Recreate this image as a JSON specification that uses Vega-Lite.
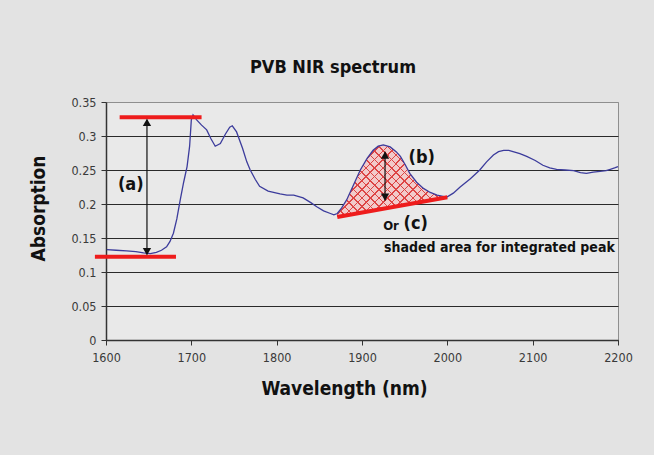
{
  "$schema": "https://vega.github.io/schema/vega-lite/v6.json",
  "width": 512,
  "height": 238,
  "autosize": {"type": "none"},
  "padding": {"left": 106, "top": 102, "right": 36, "bottom": 115},
  "background": "#e3e3e3",
  "title": {
    "text": "PVB NIR spectrum",
    "font": "DejaVu Sans Condensed, sans-serif",
    "fontSize": 18,
    "fontWeight": "bold",
    "color": "#111111",
    "baseline": "alphabetic",
    "offset": 5,
    "dx": -29
  },
  "datasets": {
    "spectrum": [
      {"wl": 1601, "A": 0.133}, {"wl": 1612, "A": 0.132}, {"wl": 1624, "A": 0.131},
      {"wl": 1635, "A": 0.130}, {"wl": 1644, "A": 0.128}, {"wl": 1652, "A": 0.127},
      {"wl": 1659, "A": 0.129}, {"wl": 1665, "A": 0.132}, {"wl": 1671, "A": 0.137},
      {"wl": 1675, "A": 0.145}, {"wl": 1679, "A": 0.157}, {"wl": 1683, "A": 0.178},
      {"wl": 1687, "A": 0.206}, {"wl": 1691, "A": 0.232}, {"wl": 1695, "A": 0.255},
      {"wl": 1698, "A": 0.285}, {"wl": 1700, "A": 0.324}, {"wl": 1702, "A": 0.331},
      {"wl": 1706, "A": 0.324}, {"wl": 1712, "A": 0.316}, {"wl": 1718, "A": 0.309},
      {"wl": 1723, "A": 0.296}, {"wl": 1728, "A": 0.285}, {"wl": 1734, "A": 0.289},
      {"wl": 1740, "A": 0.303}, {"wl": 1745, "A": 0.313}, {"wl": 1748, "A": 0.315},
      {"wl": 1753, "A": 0.306}, {"wl": 1760, "A": 0.282}, {"wl": 1765, "A": 0.262},
      {"wl": 1769, "A": 0.250}, {"wl": 1775, "A": 0.236}, {"wl": 1780, "A": 0.226},
      {"wl": 1790, "A": 0.219}, {"wl": 1804, "A": 0.215}, {"wl": 1812, "A": 0.213},
      {"wl": 1820, "A": 0.213}, {"wl": 1831, "A": 0.209}, {"wl": 1840, "A": 0.202},
      {"wl": 1847, "A": 0.196}, {"wl": 1855, "A": 0.190}, {"wl": 1863, "A": 0.186},
      {"wl": 1867, "A": 0.184}, {"wl": 1871, "A": 0.186}, {"wl": 1876, "A": 0.194},
      {"wl": 1882, "A": 0.206}, {"wl": 1890, "A": 0.228}, {"wl": 1898, "A": 0.250},
      {"wl": 1906, "A": 0.267}, {"wl": 1913, "A": 0.279}, {"wl": 1919, "A": 0.285},
      {"wl": 1925, "A": 0.287}, {"wl": 1933, "A": 0.284}, {"wl": 1940, "A": 0.277},
      {"wl": 1945, "A": 0.270}, {"wl": 1951, "A": 0.257}, {"wl": 1956, "A": 0.245},
      {"wl": 1964, "A": 0.232}, {"wl": 1972, "A": 0.223}, {"wl": 1980, "A": 0.217},
      {"wl": 1988, "A": 0.213}, {"wl": 1999, "A": 0.210}, {"wl": 2007, "A": 0.216},
      {"wl": 2015, "A": 0.225}, {"wl": 2027, "A": 0.237}, {"wl": 2038, "A": 0.250},
      {"wl": 2046, "A": 0.262}, {"wl": 2054, "A": 0.272}, {"wl": 2060, "A": 0.277},
      {"wl": 2066, "A": 0.279}, {"wl": 2072, "A": 0.279}, {"wl": 2077, "A": 0.277},
      {"wl": 2085, "A": 0.274}, {"wl": 2093, "A": 0.270}, {"wl": 2103, "A": 0.264},
      {"wl": 2112, "A": 0.257}, {"wl": 2120, "A": 0.253}, {"wl": 2128, "A": 0.251},
      {"wl": 2138, "A": 0.250}, {"wl": 2148, "A": 0.249}, {"wl": 2156, "A": 0.246},
      {"wl": 2163, "A": 0.245}, {"wl": 2171, "A": 0.247}, {"wl": 2179, "A": 0.248},
      {"wl": 2186, "A": 0.249}, {"wl": 2191, "A": 0.251}, {"wl": 2196, "A": 0.253},
      {"wl": 2200, "A": 0.255}
    ],
    "peak": [
      {"wl": 1871, "A": 0.186, "base": 0.181},
      {"wl": 1876, "A": 0.194, "base": 0.182},
      {"wl": 1882, "A": 0.206, "base": 0.1835},
      {"wl": 1890, "A": 0.228, "base": 0.1853},
      {"wl": 1898, "A": 0.250, "base": 0.187},
      {"wl": 1906, "A": 0.267, "base": 0.1889},
      {"wl": 1913, "A": 0.279, "base": 0.1904},
      {"wl": 1919, "A": 0.285, "base": 0.1918},
      {"wl": 1925, "A": 0.287, "base": 0.1931},
      {"wl": 1933, "A": 0.284, "base": 0.1949},
      {"wl": 1940, "A": 0.277, "base": 0.1965},
      {"wl": 1945, "A": 0.270, "base": 0.1976},
      {"wl": 1951, "A": 0.257, "base": 0.199},
      {"wl": 1956, "A": 0.245, "base": 0.2001},
      {"wl": 1964, "A": 0.232, "base": 0.2019},
      {"wl": 1972, "A": 0.223, "base": 0.2037},
      {"wl": 1980, "A": 0.217, "base": 0.2055},
      {"wl": 1988, "A": 0.213, "base": 0.2073},
      {"wl": 1999, "A": 0.210, "base": 0.2098}
    ],
    "redlines": [
      {"wl": 1587, "wl2": 1682, "A": 0.1225, "A2": 0.1225},
      {"wl": 1616, "wl2": 1712, "A": 0.3275, "A2": 0.3275},
      {"wl": 1871, "wl2": 2000, "A": 0.181, "A2": 0.210}
    ],
    "shafts": [
      {"wl": 1648, "A": 0.126, "A2": 0.324},
      {"wl": 1927, "A": 0.205, "A2": 0.277}
    ],
    "headsUp": [
      {"wl": 1648, "A": 0.320},
      {"wl": 1927, "A": 0.272}
    ],
    "headsDown": [
      {"wl": 1648, "A": 0.130},
      {"wl": 1927, "A": 0.210}
    ],
    "bigLabels": [
      {"wl": 1629, "A": 0.228, "label": "(a)"},
      {"wl": 1970, "A": 0.267, "label": "(b)"},
      {"wl": 1963, "A": 0.171, "label": "(c)"}
    ],
    "orLabel": [
      {"wl": 1934, "A": 0.167, "label": "Or"}
    ],
    "note": [
      {"wl": 2061, "A": 0.136, "label": "shaded area for integrated peak"}
    ]
  },
  "config": {
    "view": {"stroke": "#8f8f8f", "strokeWidth": 1, "fill": "#e9e9e9"},
    "axis": {
      "labelFont": "DejaVu Sans Condensed, sans-serif",
      "labelFontSize": 12.5,
      "labelColor": "#3a3a3a",
      "labelFlush": false,
      "titleFont": "DejaVu Sans Condensed, sans-serif",
      "titleFontWeight": "bold",
      "titleColor": "#111111",
      "domainColor": "#333333",
      "domainWidth": 1.5,
      "tickColor": "#333333",
      "tickSize": 5,
      "tickWidth": 1
    }
  },
  "encoding": {
    "x": {"field": "wl", "type": "quantitative", "scale": {"domainMin": 1600, "domainMax": 2200, "nice": false, "zero": false},
      "axis": {"values": [1600, 1700, 1800, 1900, 2000, 2100, 2200], "format": "d", "grid": false, "labelFlush": false,
        "labelPadding": 6, "title": "Wavelength (nm)", "titleFontSize": 19,
        "titleX": 238, "titleY": 48, "titleAlign": "center", "titleBaseline": "middle"}},
    "y": {"field": "A", "type": "quantitative", "scale": {"domainMin": 0, "domainMax": 0.35, "nice": false},
      "axis": {"values": [0, 0.05, 0.1, 0.15, 0.2, 0.25, 0.3, 0.35], "format": ".2~f", "labelOverlap": false, "labelFlush": false,
        "grid": true, "gridColor": {"condition": {"test": "datum.value >= 0.35", "value": "#8f8f8f"}, "value": "#2a2a2a"},
        "gridWidth": 1.2, "labelPadding": 5,
        "title": "Absorption", "titleFontSize": 19,
        "titleX": -68, "titleY": 106, "titleAlign": "center", "titleBaseline": "middle", "titleAngle": -90}}
  },
  "layer": [
    {
      "data": {"name": "peak"},
      "mark": {"type": "area", "color": "#f2caca", "opacity": 1},
      "encoding": {"y2": {"field": "base"}}
    },
    {
      "data": {"name": "peak"},
      "mark": {"type": "area", "opacity": 1, "fill": {"gradient": "linear", "x1": 0, "y1": 0, "x2": 1.2, "y2": 0.79, "stops": [
        {"offset": 0, "color": "#dd4444"}, {"offset": 0.008, "color": "#dd4444"}, {"offset": 0.008, "color": "rgba(255,255,255,0)"}, {"offset": 0.0455, "color": "rgba(255,255,255,0)"},
        {"offset": 0.0455, "color": "#dd4444"}, {"offset": 0.0535, "color": "#dd4444"}, {"offset": 0.0535, "color": "rgba(255,255,255,0)"}, {"offset": 0.0909, "color": "rgba(255,255,255,0)"},
        {"offset": 0.0909, "color": "#dd4444"}, {"offset": 0.0989, "color": "#dd4444"}, {"offset": 0.0989, "color": "rgba(255,255,255,0)"}, {"offset": 0.1364, "color": "rgba(255,255,255,0)"},
        {"offset": 0.1364, "color": "#dd4444"}, {"offset": 0.1444, "color": "#dd4444"}, {"offset": 0.1444, "color": "rgba(255,255,255,0)"}, {"offset": 0.1818, "color": "rgba(255,255,255,0)"},
        {"offset": 0.1818, "color": "#dd4444"}, {"offset": 0.1898, "color": "#dd4444"}, {"offset": 0.1898, "color": "rgba(255,255,255,0)"}, {"offset": 0.2273, "color": "rgba(255,255,255,0)"},
        {"offset": 0.2273, "color": "#dd4444"}, {"offset": 0.2353, "color": "#dd4444"}, {"offset": 0.2353, "color": "rgba(255,255,255,0)"}, {"offset": 0.2727, "color": "rgba(255,255,255,0)"},
        {"offset": 0.2727, "color": "#dd4444"}, {"offset": 0.2807, "color": "#dd4444"}, {"offset": 0.2807, "color": "rgba(255,255,255,0)"}, {"offset": 0.3182, "color": "rgba(255,255,255,0)"},
        {"offset": 0.3182, "color": "#dd4444"}, {"offset": 0.3262, "color": "#dd4444"}, {"offset": 0.3262, "color": "rgba(255,255,255,0)"}, {"offset": 0.3636, "color": "rgba(255,255,255,0)"},
        {"offset": 0.3636, "color": "#dd4444"}, {"offset": 0.3716, "color": "#dd4444"}, {"offset": 0.3716, "color": "rgba(255,255,255,0)"}, {"offset": 0.4091, "color": "rgba(255,255,255,0)"},
        {"offset": 0.4091, "color": "#dd4444"}, {"offset": 0.4171, "color": "#dd4444"}, {"offset": 0.4171, "color": "rgba(255,255,255,0)"}, {"offset": 0.4545, "color": "rgba(255,255,255,0)"},
        {"offset": 0.4545, "color": "#dd4444"}, {"offset": 0.4625, "color": "#dd4444"}, {"offset": 0.4625, "color": "rgba(255,255,255,0)"}, {"offset": 0.5, "color": "rgba(255,255,255,0)"},
        {"offset": 0.5, "color": "#dd4444"}, {"offset": 0.508, "color": "#dd4444"}, {"offset": 0.508, "color": "rgba(255,255,255,0)"}, {"offset": 0.5455, "color": "rgba(255,255,255,0)"},
        {"offset": 0.5455, "color": "#dd4444"}, {"offset": 0.5535, "color": "#dd4444"}, {"offset": 0.5535, "color": "rgba(255,255,255,0)"}, {"offset": 0.5909, "color": "rgba(255,255,255,0)"},
        {"offset": 0.5909, "color": "#dd4444"}, {"offset": 0.5989, "color": "#dd4444"}, {"offset": 0.5989, "color": "rgba(255,255,255,0)"}, {"offset": 0.6364, "color": "rgba(255,255,255,0)"},
        {"offset": 0.6364, "color": "#dd4444"}, {"offset": 0.6444, "color": "#dd4444"}, {"offset": 0.6444, "color": "rgba(255,255,255,0)"}, {"offset": 0.6818, "color": "rgba(255,255,255,0)"},
        {"offset": 0.6818, "color": "#dd4444"}, {"offset": 0.6898, "color": "#dd4444"}, {"offset": 0.6898, "color": "rgba(255,255,255,0)"}, {"offset": 0.7273, "color": "rgba(255,255,255,0)"},
        {"offset": 0.7273, "color": "#dd4444"}, {"offset": 0.7353, "color": "#dd4444"}, {"offset": 0.7353, "color": "rgba(255,255,255,0)"}, {"offset": 0.7727, "color": "rgba(255,255,255,0)"},
        {"offset": 0.7727, "color": "#dd4444"}, {"offset": 0.7807, "color": "#dd4444"}, {"offset": 0.7807, "color": "rgba(255,255,255,0)"}, {"offset": 0.8182, "color": "rgba(255,255,255,0)"},
        {"offset": 0.8182, "color": "#dd4444"}, {"offset": 0.8262, "color": "#dd4444"}, {"offset": 0.8262, "color": "rgba(255,255,255,0)"}, {"offset": 0.8636, "color": "rgba(255,255,255,0)"},
        {"offset": 0.8636, "color": "#dd4444"}, {"offset": 0.8716, "color": "#dd4444"}, {"offset": 0.8716, "color": "rgba(255,255,255,0)"}, {"offset": 0.9091, "color": "rgba(255,255,255,0)"},
        {"offset": 0.9091, "color": "#dd4444"}, {"offset": 0.9171, "color": "#dd4444"}, {"offset": 0.9171, "color": "rgba(255,255,255,0)"}, {"offset": 0.9545, "color": "rgba(255,255,255,0)"},
        {"offset": 0.9545, "color": "#dd4444"}, {"offset": 0.9625, "color": "#dd4444"}, {"offset": 0.9625, "color": "rgba(255,255,255,0)"}, {"offset": 1, "color": "rgba(255,255,255,0)"}
      ]}},
      "encoding": {"y2": {"field": "base"}}
    },
    {
      "data": {"name": "peak"},
      "mark": {"type": "area", "opacity": 1, "fill": {"gradient": "linear", "x1": 0, "y1": 1, "x2": 1.2, "y2": 0.21, "stops": [
        {"offset": 0, "color": "#dd4444"}, {"offset": 0.008, "color": "#dd4444"}, {"offset": 0.008, "color": "rgba(255,255,255,0)"}, {"offset": 0.0455, "color": "rgba(255,255,255,0)"},
        {"offset": 0.0455, "color": "#dd4444"}, {"offset": 0.0535, "color": "#dd4444"}, {"offset": 0.0535, "color": "rgba(255,255,255,0)"}, {"offset": 0.0909, "color": "rgba(255,255,255,0)"},
        {"offset": 0.0909, "color": "#dd4444"}, {"offset": 0.0989, "color": "#dd4444"}, {"offset": 0.0989, "color": "rgba(255,255,255,0)"}, {"offset": 0.1364, "color": "rgba(255,255,255,0)"},
        {"offset": 0.1364, "color": "#dd4444"}, {"offset": 0.1444, "color": "#dd4444"}, {"offset": 0.1444, "color": "rgba(255,255,255,0)"}, {"offset": 0.1818, "color": "rgba(255,255,255,0)"},
        {"offset": 0.1818, "color": "#dd4444"}, {"offset": 0.1898, "color": "#dd4444"}, {"offset": 0.1898, "color": "rgba(255,255,255,0)"}, {"offset": 0.2273, "color": "rgba(255,255,255,0)"},
        {"offset": 0.2273, "color": "#dd4444"}, {"offset": 0.2353, "color": "#dd4444"}, {"offset": 0.2353, "color": "rgba(255,255,255,0)"}, {"offset": 0.2727, "color": "rgba(255,255,255,0)"},
        {"offset": 0.2727, "color": "#dd4444"}, {"offset": 0.2807, "color": "#dd4444"}, {"offset": 0.2807, "color": "rgba(255,255,255,0)"}, {"offset": 0.3182, "color": "rgba(255,255,255,0)"},
        {"offset": 0.3182, "color": "#dd4444"}, {"offset": 0.3262, "color": "#dd4444"}, {"offset": 0.3262, "color": "rgba(255,255,255,0)"}, {"offset": 0.3636, "color": "rgba(255,255,255,0)"},
        {"offset": 0.3636, "color": "#dd4444"}, {"offset": 0.3716, "color": "#dd4444"}, {"offset": 0.3716, "color": "rgba(255,255,255,0)"}, {"offset": 0.4091, "color": "rgba(255,255,255,0)"},
        {"offset": 0.4091, "color": "#dd4444"}, {"offset": 0.4171, "color": "#dd4444"}, {"offset": 0.4171, "color": "rgba(255,255,255,0)"}, {"offset": 0.4545, "color": "rgba(255,255,255,0)"},
        {"offset": 0.4545, "color": "#dd4444"}, {"offset": 0.4625, "color": "#dd4444"}, {"offset": 0.4625, "color": "rgba(255,255,255,0)"}, {"offset": 0.5, "color": "rgba(255,255,255,0)"},
        {"offset": 0.5, "color": "#dd4444"}, {"offset": 0.508, "color": "#dd4444"}, {"offset": 0.508, "color": "rgba(255,255,255,0)"}, {"offset": 0.5455, "color": "rgba(255,255,255,0)"},
        {"offset": 0.5455, "color": "#dd4444"}, {"offset": 0.5535, "color": "#dd4444"}, {"offset": 0.5535, "color": "rgba(255,255,255,0)"}, {"offset": 0.5909, "color": "rgba(255,255,255,0)"},
        {"offset": 0.5909, "color": "#dd4444"}, {"offset": 0.5989, "color": "#dd4444"}, {"offset": 0.5989, "color": "rgba(255,255,255,0)"}, {"offset": 0.6364, "color": "rgba(255,255,255,0)"},
        {"offset": 0.6364, "color": "#dd4444"}, {"offset": 0.6444, "color": "#dd4444"}, {"offset": 0.6444, "color": "rgba(255,255,255,0)"}, {"offset": 0.6818, "color": "rgba(255,255,255,0)"},
        {"offset": 0.6818, "color": "#dd4444"}, {"offset": 0.6898, "color": "#dd4444"}, {"offset": 0.6898, "color": "rgba(255,255,255,0)"}, {"offset": 0.7273, "color": "rgba(255,255,255,0)"},
        {"offset": 0.7273, "color": "#dd4444"}, {"offset": 0.7353, "color": "#dd4444"}, {"offset": 0.7353, "color": "rgba(255,255,255,0)"}, {"offset": 0.7727, "color": "rgba(255,255,255,0)"},
        {"offset": 0.7727, "color": "#dd4444"}, {"offset": 0.7807, "color": "#dd4444"}, {"offset": 0.7807, "color": "rgba(255,255,255,0)"}, {"offset": 0.8182, "color": "rgba(255,255,255,0)"},
        {"offset": 0.8182, "color": "#dd4444"}, {"offset": 0.8262, "color": "#dd4444"}, {"offset": 0.8262, "color": "rgba(255,255,255,0)"}, {"offset": 0.8636, "color": "rgba(255,255,255,0)"},
        {"offset": 0.8636, "color": "#dd4444"}, {"offset": 0.8716, "color": "#dd4444"}, {"offset": 0.8716, "color": "rgba(255,255,255,0)"}, {"offset": 0.9091, "color": "rgba(255,255,255,0)"},
        {"offset": 0.9091, "color": "#dd4444"}, {"offset": 0.9171, "color": "#dd4444"}, {"offset": 0.9171, "color": "rgba(255,255,255,0)"}, {"offset": 0.9545, "color": "rgba(255,255,255,0)"},
        {"offset": 0.9545, "color": "#dd4444"}, {"offset": 0.9625, "color": "#dd4444"}, {"offset": 0.9625, "color": "rgba(255,255,255,0)"}, {"offset": 1, "color": "rgba(255,255,255,0)"}
      ]}},
      "encoding": {"y2": {"field": "base"}}
    },
    {
      "data": {"name": "spectrum"},
      "mark": {"type": "line", "color": "#3c3c9c", "strokeWidth": 1.3},
      "encoding": {}
    },
    {
      "data": {"name": "redlines"},
      "mark": {"type": "rule", "color": "#ee1c1c", "strokeWidth": 4},
      "encoding": {"x2": {"field": "wl2"}, "y2": {"field": "A2"}}
    },
    {
      "data": {"name": "shafts"},
      "mark": {"type": "rule", "color": "#111111", "strokeWidth": 1.2},
      "encoding": {"y2": {"field": "A2"}}
    },
    {
      "data": {"name": "headsUp"},
      "mark": {"type": "point", "shape": "triangle-up", "filled": true, "color": "#111111", "size": 70, "opacity": 1},
      "encoding": {}
    },
    {
      "data": {"name": "headsDown"},
      "mark": {"type": "point", "shape": "triangle-down", "filled": true, "color": "#111111", "size": 70, "opacity": 1},
      "encoding": {}
    },
    {
      "data": {"name": "bigLabels"},
      "mark": {"type": "text", "font": "DejaVu Sans Condensed, sans-serif", "fontSize": 18, "fontWeight": "bold", "color": "#111111", "baseline": "middle"},
      "encoding": {"text": {"field": "label"}}
    },
    {
      "data": {"name": "orLabel"},
      "mark": {"type": "text", "font": "DejaVu Sans Condensed, sans-serif", "fontSize": 13, "fontWeight": "bold", "color": "#111111", "baseline": "middle"},
      "encoding": {"text": {"field": "label"}}
    },
    {
      "data": {"name": "note"},
      "mark": {"type": "text", "font": "DejaVu Sans Condensed, sans-serif", "fontSize": 14, "fontWeight": "bold", "color": "#111111", "baseline": "middle"},
      "encoding": {"text": {"field": "label"}}
    }
  ]
}
